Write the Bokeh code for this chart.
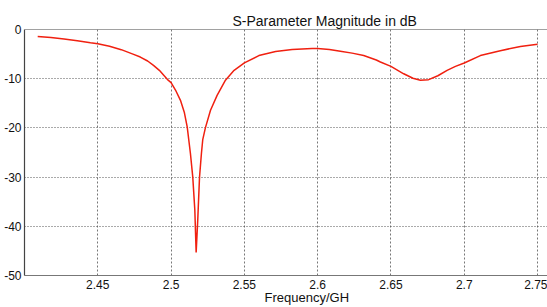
from bokeh.plotting import figure
from bokeh.models import FixedTicker, Span, Title, Range1d
from bokeh.embed import file_html
from bokeh.resources import INLINE

freq = [2.409, 2.418, 2.427, 2.436, 2.445, 2.45, 2.458, 2.466, 2.474, 2.479,
        2.484, 2.488, 2.492, 2.495, 2.498, 2.5, 2.503, 2.5064, 2.509, 2.511,
        2.5132, 2.5148, 2.5162, 2.5171, 2.5182, 2.5194, 2.5207, 2.5216, 2.5234, 2.5269,
        2.5314, 2.5371, 2.543, 2.55, 2.5599, 2.5713, 2.5826, 2.5962, 2.6,
        2.608, 2.6155, 2.6235, 2.6314, 2.64, 2.6428, 2.65, 2.6587, 2.665, 2.6701,
        2.6757, 2.682, 2.6883, 2.694, 2.7, 2.711, 2.7246, 2.7383, 2.75]
s_db = [-1.4, -1.65, -1.95, -2.3, -2.7, -2.9, -3.4, -4.1, -5.0, -5.6,
        -6.4, -7.3, -8.3, -9.3, -10.3, -10.8, -12.3, -14.4, -16.8, -19.8,
        -25.2, -30.0, -36.7, -45.3, -38.7, -30.0, -25.2, -22.4, -20.0, -16.4,
        -13.4, -10.3, -8.3, -6.8, -5.3, -4.46, -4.06, -3.85, -3.88,
        -4.05, -4.4, -4.8, -5.3, -6.2, -6.6, -7.5, -9.0, -9.9, -10.3,
        -10.2, -9.4, -8.3, -7.5, -6.8, -5.3, -4.3, -3.45, -3.0]

x_ticks = [2.45, 2.5, 2.55, 2.6, 2.65, 2.7, 2.75]
x_tick_labels = ["2.45", "2.5", "2.55", "2.6", "2.65", "2.7", "2.75"]
y_ticks = [-50, -40, -30, -20, -10, 0]
y_tick_labels = ["-50", "-40", "-30", "-20", "-10", "0"]

title_text = "S-Parameter Magnitude in dB"
xlabel_text = "Frequency/GH"

FONT = "Liberation Sans"

p = figure(width=547, height=307, output_backend="svg", toolbar_location=None,
           x_range=Range1d(2.4, 2.7568), y_range=Range1d(-50, 0),
           min_border_left=24, min_border_right=0, min_border_top=29,
           min_border_bottom=32)
p.background_fill_color = "white"
p.border_fill_color = "white"
p.outline_line_color = None

p.line(freq, s_db, line_color="#f02010", line_width=1.5)

for ax in (p.xaxis, p.yaxis):
    ax.major_tick_line_color = None
    ax.minor_tick_line_color = None
    ax.major_tick_out = 0
    ax.major_tick_in = 0
    ax.minor_tick_out = 0
    ax.minor_tick_in = 0
    ax.major_label_text_font = FONT
    ax.major_label_text_font_size = "12px"
    ax.major_label_text_color = "#111111"
    ax.axis_line_color = "#777777"
    ax.axis_line_width = 1.2

p.xaxis.ticker = FixedTicker(ticks=x_ticks)
p.xaxis.major_label_overrides = dict(zip(x_ticks, x_tick_labels))
p.yaxis.ticker = FixedTicker(ticks=y_ticks)
p.yaxis.major_label_overrides = dict(zip(y_ticks, y_tick_labels))
p.xaxis.major_label_standoff = 4
p.yaxis.major_label_standoff = 3
p.yaxis.axis_line_color = "#444444"

p.xgrid.grid_line_color = "#777777"
p.xgrid.grid_line_dash = "2 2"
p.ygrid.grid_line_color = "#555555"
p.ygrid.grid_line_dash = "1 2"

p.add_layout(Span(location=0, dimension="width", line_color="#444444", line_width=1.2))

t = Title(text=title_text, align="left", offset=208, text_font=FONT,
          text_font_size="14px", text_font_style="normal", text_color="#111111",
          standoff=2)
p.add_layout(t, "above")

xl = Title(text=xlabel_text, align="left", offset=240, text_font=FONT,
           text_font_size="13px", text_font_style="normal", text_color="#111111",
           standoff=-8)
p.add_layout(xl, "below")

open("out.html", "w").write(file_html(p, INLINE))
